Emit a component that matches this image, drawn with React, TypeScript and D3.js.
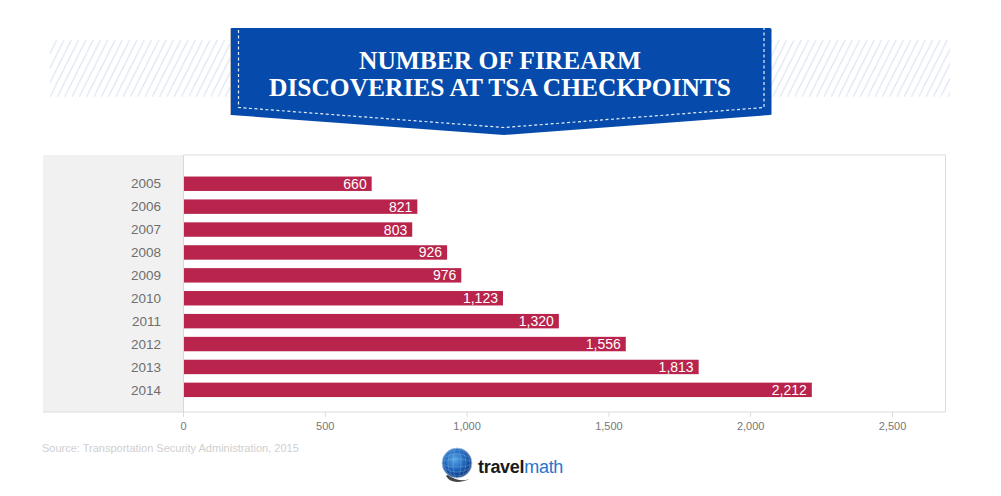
import React from "react";
import * as d3 from "d3";

const W = 1001;
const H = 496;
const years = ["2005","2006","2007","2008","2009","2010","2011","2012","2013","2014"];
const discoveries = [660,821,803,926,976,1123,1320,1556,1813,2212];
const xTicks = [0,500,1000,1500,2000,2500];
const titleLines = ["NUMBER OF FIREARM","DISCOVERIES AT TSA CHECKPOINTS"];
const titleWidths = [282,462];
const sourceText = "Source: Transportation Security Administration, 2015";
const gridRx = [4,9,13];

const x = d3.scaleLinear().domain([0,2500]).range([183.5,892.5]);
const y = d3.scaleBand<string>().domain(years).range([172.3,401.3]).paddingInner(0.37).paddingOuter(0.185);
const fmt = d3.format(",");
const sans = "'Liberation Sans', Arial, sans-serif";
const barNudge = 1;

export default function App() {
  return (
    <svg width={W} height={H} viewBox={`0 0 ${W} ${H}`} style={{position:"absolute",left:0,top:0,background:"#fff"}}>
      <defs>
        <pattern id="hatch" width="7.3" height="57" patternUnits="userSpaceOnUse" patternTransform="translate(50 40)">
          <path d="M-14.6 57 L14 0 M-7.3 57 L21.3 0 M0 57 L28.6 0 M-21.9 57 L6.7 0" stroke="#dde5f4" strokeWidth="1.2" fill="none"/>
        </pattern>
        <radialGradient id="globe" cx="0.42" cy="0.38" r="0.65">
          <stop offset="0" stopColor="#5aa7e8"/>
          <stop offset="0.55" stopColor="#1c62b8"/>
          <stop offset="1" stopColor="#0b2f70"/>
        </radialGradient>
      </defs>
      <rect x={50} y={40} width={180} height={57} fill="url(#hatch)"/>
      <rect x={771} y={40} width={179} height={57} fill="url(#hatch)"/>

      <path d="M230.5 29 Q230.5 28 232 28 L770 28 Q771.5 28 771.5 29.5 L771.5 114 Q771.5 115 770 115 L504 135 L231 115 Q230.5 115 230.5 114 Z" fill="#064bab"/>
      <path d="M230.5 29 L230.5 114.5" stroke="#b9bcc4" strokeWidth="1"/>
      <path d="M238.5 30 L238.5 107.5 L504 127.5 L764 107.5 L764 28" fill="none" stroke="#e6edf8" strokeWidth="1.2" strokeDasharray="3 2.5"/>
      <g fontFamily="'Liberation Serif', serif" fontWeight="700" fontSize="24.4" fill="#fff" textAnchor="middle">
        {titleLines.map((t,i)=><text key={t} x={500} y={68.5+i*27} textLength={titleWidths[i]} lengthAdjust="spacingAndGlyphs">{t}</text>)}
      </g>

      <rect x={43} y={155} width={140} height={257} fill="#f1f1f1"/>
      <path d="M183.5 155 H945.5 V412 H43" fill="none" stroke="#dcdcdc" strokeWidth="1"/>
      <path d="M183.5 155 V412" fill="none" stroke="#d9d9d9" strokeWidth="1"/>

      {xTicks.map(t=>(
        <g key={t}>
          <line x1={x(t)} x2={x(t)} y1={412} y2={417} stroke="#dcdcdc"/>
          <text x={x(t)} y={430} fontFamily={sans} fontSize="11" fill="#777" textAnchor="middle">{fmt(t)}</text>
        </g>
      ))}
      {years.map((yr,i)=>{
        const by = y(yr)!;
        const bh = y.bandwidth();
        const bx = x(discoveries[i]) + barNudge;
        return (
          <g key={yr}>
            <text x={161} y={by+bh/2+4.7} fontFamily={sans} fontSize="13.5" fill="#6e6e6e" textAnchor="end">{yr}</text>
            <rect x={184} y={by} width={bx-184} height={bh} fill="#b8244c"/>
            <text x={bx-5} y={by+bh/2+5} fontFamily={sans} fontSize="14" fill="#fff" textAnchor="end">{fmt(discoveries[i])}</text>
          </g>
        );
      })}
      <text x={42} y={452} fontFamily={sans} fontSize="11" fill="#cfcfcf">{sourceText}</text>

      <path d="M446 476 Q452 486 470 479 Q456 483 449 474 Z" fill="#444"/>
      <circle cx={457} cy={463} r={15} fill="url(#globe)" stroke="#cfe2f5" strokeWidth="0.6"/>
      <g fill="none" stroke="#9cc6ee" strokeWidth="0.5" opacity="0.6">
        {gridRx.map(r=><ellipse key={r} cx={457} cy={463} rx={r} ry={15}/>)}
        {gridRx.map(r=><ellipse key={r} cx={457} cy={463} rx={15} ry={r}/>)}
      </g>
      <text x={478} y={473} fontFamily={sans} fontSize="18" letterSpacing="-0.3">
        <tspan fontWeight="700" fill="#1a1a1a">travel</tspan><tspan fill="#2277d0">math</tspan>
      </text>
    </svg>
  );
}
